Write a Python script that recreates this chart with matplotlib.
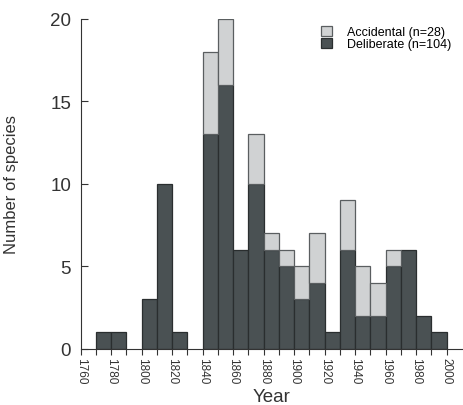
import matplotlib.pyplot as plt
import numpy as np

plt.rcParams['font.family'] = ['Liberation Sans', 'DejaVu Sans']

# decade bins (start year)
decades = [1770, 1780, 1790, 1800, 1810, 1820, 1830, 1840, 1850, 1860, 1870, 1880,
           1890, 1900, 1910, 1920, 1930, 1940, 1950, 1960, 1970, 1980, 1990]
deliberate = [1, 1, 0, 3, 10, 1, 0, 13, 16, 6, 10, 6, 5, 3, 4, 1, 6, 2, 2, 5, 6, 2, 1]
accidental = [0, 0, 0, 0, 0, 0, 0, 5, 4, 0, 3, 1, 1, 2, 3, 0, 3, 3, 2, 1, 0, 0, 0]
xticks = list(range(1760, 2001, 20))

dark = '#4a5153'
light = '#d0d2d3'

fig = plt.figure(figsize=(4.64, 4.06), dpi=100)
ax = fig.add_axes([0.174, 0.138, 0.8215, 0.813])

dec = np.array(decades)
deli = np.array(deliberate)
acc = np.array(accidental)
m = deli > 0
ax.bar(dec[m], deli[m], width=10, align='edge', color=dark, edgecolor='#2a2e2f', linewidth=0.9,
       label='Deliberate (n=104)')
ma = acc > 0
ax.bar(dec[ma], acc[ma], bottom=deli[ma], width=10, align='edge', color=light,
       edgecolor='#5a5e60', linewidth=0.9, label='Accidental (n=28)')

ax.set_xlim(1760, 2010)
ax.set_ylim(0, 20)
ax.set_xticks(xticks)
ax.set_xticklabels([str(t) for t in xticks], rotation=270, fontsize=8.5, color='#333333')
ax.set_xticks(range(1770, 2001, 20), minor=True)
ax.set_yticks([0, 5, 10, 15, 20])
ax.tick_params(axis='y', direction='in', labelsize=13.5, length=5, colors='#333333', width=0.8, pad=7)
ax.tick_params(axis='x', which='both', length=4, width=0.8, colors='#333333', pad=2)
for s in ['top', 'right']:
    ax.spines[s].set_visible(False)
for s in ['left', 'bottom']:
    ax.spines[s].set_color('#333333')
    ax.spines[s].set_linewidth(0.8)

ax.set_xlabel('Year', fontsize=13.5, color='#333333', labelpad=3)
ax.set_ylabel('Number of species', fontsize=12, color='#333333', labelpad=22)

h, l = ax.get_legend_handles_labels()
fig.legend(h[::-1], l[::-1], loc='upper left', bbox_to_anchor=(321 / 464, 1 - 27 / 406),
           frameon=False, borderpad=0, borderaxespad=0,
           fontsize=9, handlelength=0.9, handleheight=0.8, handletextpad=1.2, labelspacing=0.0)

fig.savefig('out.png', dpi=100)
